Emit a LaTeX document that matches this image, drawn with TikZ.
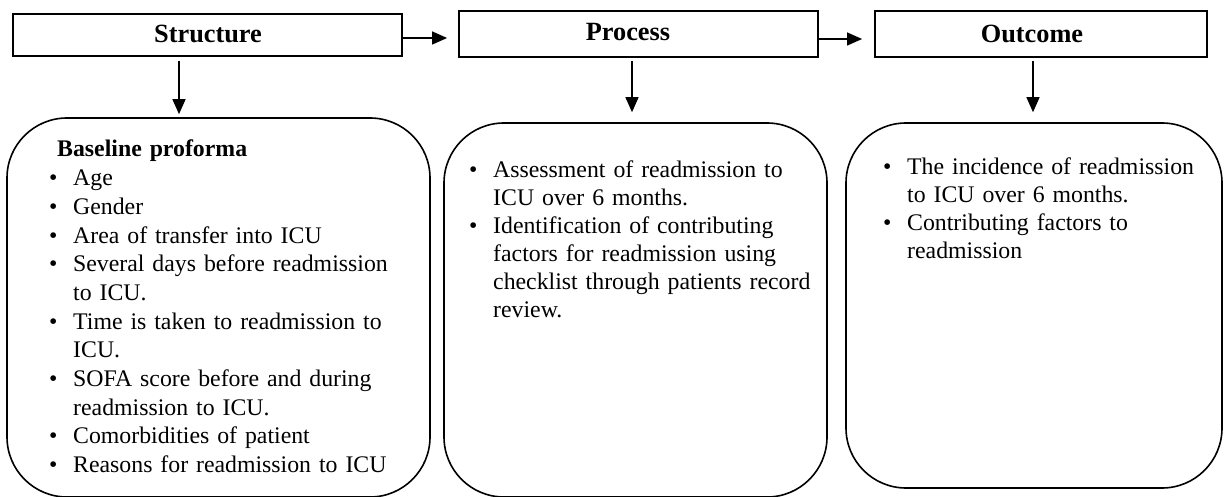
\documentclass[tikz,border=0pt]{standalone}
\usepackage{fontspec}
\setmainfont{Liberation Serif}
\usetikzlibrary{arrows.meta}
\newcommand{\bul}{\makebox[24pt][l]{\textbullet}}
\newcommand{\cnt}{\hspace*{24pt}}
\begin{document}
\begin{tikzpicture}[x=1pt,y=-1pt,
  hbox/.style={draw, line width=1.8pt, inner sep=0pt},
  rbox/.style={draw, line width=1.6pt, rounded corners=60pt, inner sep=0pt},
  htext/.style={anchor=base, inner sep=0pt, font=\fontsize{26.3}{30}\selectfont\bfseries},
  btext/.style={anchor=base west, inner sep=0pt, align=left},
  arr/.style={line width=1.3pt, -{Triangle[length=15pt,width=13pt]}}]
\useasboundingbox (0,0) rectangle (1224,497);

% header boxes
\node[hbox, minimum width=389pt, minimum height=42pt] (sbox) at (207.5,35) {};
\node[hbox, minimum width=359pt, minimum height=46pt] (pbox) at (638.5,34) {};
\node[hbox, minimum width=332pt, minimum height=46pt] (obox) at (1041,34) {};
\node[htext] (stxt) at (208,43) {Structure};
\node[htext] (ptxt) at (628,41) {Process};
\node[htext] (otxt) at (1032,43) {Outcome};

% rounded boxes
\node[rbox, minimum width=423pt, minimum height=379pt] (bbox1) at (218.5,307.5) {};
\node[rbox, minimum width=383pt, minimum height=374pt] (bbox2) at (635.5,310) {};
\node[rbox, minimum width=376pt, minimum height=365pt] (bbox3) at (1034,305.5) {};

% arrows
\draw[arr] ([yshift=-3pt]sbox.east) -- ([xshift=-11pt,yshift=-4pt]pbox.west);
\draw[arr] ([yshift=-5pt]pbox.east) -- ([xshift=-12pt,yshift=-5pt]obox.west);
\draw[arr] ([xshift=-28.5pt,yshift=-4pt]sbox.south) -- ([xshift=-39.5pt,yshift=3pt]bbox1.north);
\draw[arr] ([xshift=-6.5pt,yshift=-3pt]pbox.south) -- ([xshift=-3.5pt,yshift=10pt]bbox2.north);
\draw[arr] ([xshift=-8pt,yshift=-3pt]obox.south) -- ([xshift=-1pt,yshift=10pt]bbox3.north);

% texts
\node[btext, text width=400pt, font=\fontsize{23.8}{28.7}\selectfont] (t1) at (49,157) {%
\hspace*{8pt}\textbf{Baseline proforma}\\
\bul Age\\
\bul Gender\\
\bul Area of transfer into ICU\\
\bul Several days before readmission\\
\cnt to ICU.\\
\bul Time is taken to readmission to\\
\cnt ICU.\\
\bul SOFA score before and during\\
\cnt readmission to ICU.\\
\bul Comorbidities of patient\\
\bul Reasons for readmission to ICU};

\node[btext, text width=360pt, font=\fontsize{23.8}{28}\selectfont] (t2) at (469,178) {%
\bul Assessment of readmission to\\
\cnt ICU over 6 months.\\
\bul Identification of contributing\\
\cnt factors for readmission using\\
\cnt checklist through patients record\\
\cnt review.};

\node[btext, text width=330pt, font=\fontsize{23.8}{27.7}\selectfont] (t3) at (883,175) {%
\bul The incidence of readmission\\
\cnt to ICU over 6 months.\\
\bul Contributing factors to\\
\cnt readmission};
\end{tikzpicture}
\end{document}
